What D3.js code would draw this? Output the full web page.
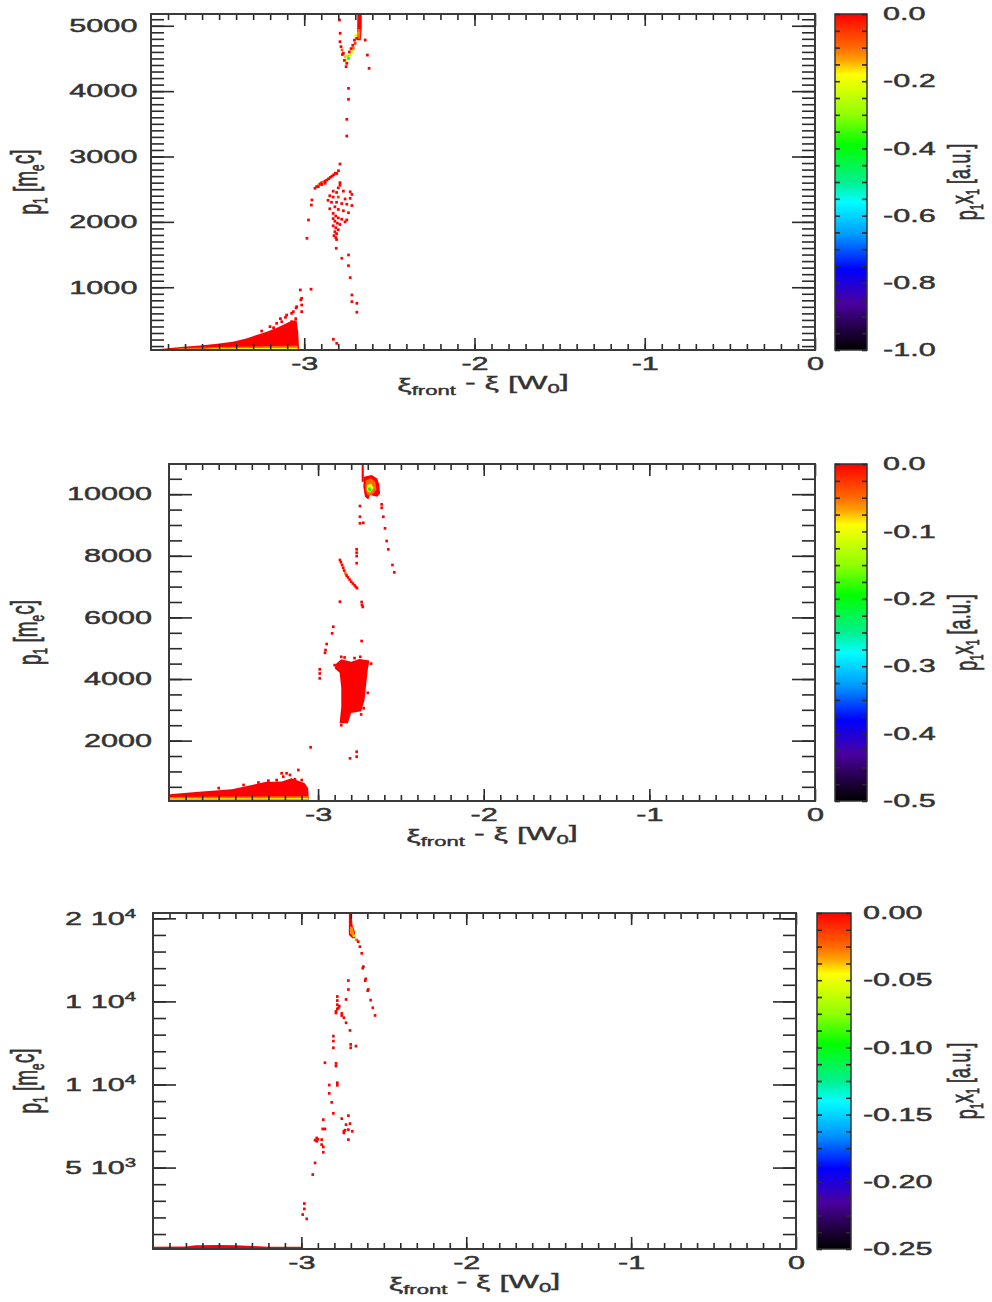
<!DOCTYPE html>
<html>
<head>
<meta charset="utf-8">
<script src="https://cdn.jsdelivr.net/npm/d3@7"></script>
<style>
body { margin: 0; background: #fff; }
svg text { font-family: "Liberation Sans", Arial, Helvetica, sans-serif; }
</style>
</head>
<body>
<div id="chart"></div>
<script>
// ---------- shared axis values
var xTicks = [-3, -2, -1, 0];
var xTickLabels = ["-3", "-2", "-1", "0"];

// colour table (fraction of colour bar from top -> colour)
var colorStops = [0, 0.1, 0.14, 0.18, 0.3, 0.39, 0.5, 0.56, 0.66, 0.76, 0.86, 0.94, 1];
var colorHex = ["#ff0000", "#ff6a00", "#ffa800", "#ffff00", "#90ff00", "#00ff00", "#00f090",
                "#00ffff", "#0096ff", "#0000ff", "#4a00a0", "#200040", "#000000"];

// ---------- panel 1  (p1 linear, values 0 .. -1)
var p1YTicks = [1000, 2000, 3000, 4000, 5000];
var p1YLabels = ["1000", "2000", "3000", "4000", "5000"];
var p1CbTicks = [0, -0.2, -0.4, -0.6, -0.8, -1.0];
var p1CbLabels = ["0.0", "-0.2", "-0.4", "-0.6", "-0.8", "-1.0"];

var p1StripRed = [[-3.90,45],[-3.83,60],[-3.71,90],[-3.61,110],[-3.51,135],[-3.42,165],[-3.34,215],
  [-3.28,270],[-3.22,320],[-3.16,380],[-3.12,430],[-3.08,480],[-3.045,500],[-3.035,300],[-3.03,40]];
var p1StripOrange = [[-3.80,42],[-3.72,70],[-3.50,85],[-3.30,95],[-3.10,105],[-3.04,105],[-3.035,40]];
var p1StripYellow = [[-3.62,42],[-3.55,62],[-3.30,70],[-3.04,75],[-3.035,40]];
var p1StripGreen = [[-3.45,40],[-3.40,50],[-3.06,52],[-3.04,55],[-3.035,40]];

var p1Column = [[-2.688,5180],[-2.662,5180],[-2.662,4950],[-2.668,4780],[-2.690,4780]];
var p1ColumnOrange = [[-2.688,4950],[-2.670,4950],[-2.672,4800],[-2.690,4800]];

var p1Dots = [
  [-2.793,5088,0],[-2.789,4885,0],[-2.642,4782,0],[-2.629,4552,0],[-2.619,4349,0],[-2.754,4374,0],
  [-2.790,4757,0],[-2.784,4680,0],[-2.778,4630,-0.08],[-2.770,4579,0],[-2.760,4528,-0.15],[-2.754,4476,-0.22],
  [-2.750,4425,0],[-2.740,4502,-0.4],[-2.731,4554,-0.25],[-2.721,4605,-0.18],[-2.711,4655,-0.1],[-2.701,4731,-0.05],
  [-2.692,4808,0],[-2.682,4885,-0.12],[-2.776,4560,0],[-2.764,4470,0],[-2.745,4540,-0.3],[-2.735,4600,0],
  [-2.725,4650,0],[-2.715,4700,0],[-2.705,4780,0],[-2.697,4850,-0.2],
  [-2.740,4043,0],[-2.740,3875,0],[-2.750,3569,0],[-2.750,3313,0],
  [-2.790,2885,0],[-2.799,2783,0],[-2.809,2740,0],
  [-2.937,2514,0],[-2.927,2540,0],[-2.917,2565,-0.15],[-2.907,2580,0],[-2.897,2600,0],[-2.887,2610,-0.08],
  [-2.877,2625,0],[-2.867,2640,0],[-2.857,2660,0],[-2.847,2680,0],[-2.837,2700,0],[-2.827,2720,0],
  [-2.817,2745,0],[-2.917,2540,0],[-2.897,2570,0],[-2.877,2590,0],
  [-2.955,2335,0],[-2.958,2258,0],[-2.975,2029,0],[-2.984,1749,0],
  [-2.790,2600,0],[-2.790,2560,0],[-2.800,2520,0],[-2.830,2470,0],[-2.810,2450,0],[-2.770,2470,0],[-2.730,2460,0],
  [-2.720,2420,0],[-2.850,2400,0],[-2.830,2380,0],[-2.800,2380,-0.05],[-2.760,2350,0],[-2.730,2360,0],[-2.860,2330,0],
  [-2.840,2300,0],[-2.810,2300,0],[-2.780,2280,0],[-2.750,2270,0],[-2.720,2250,0],[-2.820,2230,0],[-2.850,2200,0],
  [-2.800,2190,0],[-2.770,2170,0],[-2.740,2140,0],[-2.830,2130,0],[-2.815,2090,0],[-2.800,2060,0],[-2.780,2040,0],
  [-2.830,2050,0],[-2.820,2010,0],[-2.805,1980,0],[-2.790,1960,0],[-2.830,1940,0],[-2.815,1910,0],[-2.800,1880,0],
  [-2.820,1850,0],[-2.810,1820,0],[-2.825,1790,0],[-2.815,1760,0],[-2.810,1730,0],[-2.760,2000,0],[-2.750,2030,0],
  [-2.812,1596,0],[-2.779,1443,0],[-2.740,1494,0],[-2.740,1330,0],[-2.730,1147,0],[-2.720,882,0],[-2.720,780,0],
  [-2.691,755,0],[-2.691,618,0],[-2.829,204,0],[-2.809,142,0],
  [-3.023,959,0],[-2.960,970,0],[-3.020,806,0],[-3.048,683,0],[-3.015,627,0],[-3.074,602,0],[-3.103,575,0],
  [-3.064,626,0],[-3.044,702,0],[-3.015,728,0],[-3.015,831,0],[-3.162,448,0],[-3.201,397,0],[-3.132,473,0],
  [-3.093,397,0],[-3.074,473,0],[-3.250,330,0],[-3.180,380,0],[-3.140,520,0],[-3.110,540,0],[-3.050,520,0]
];

// ---------- panel 2  (p1 linear, values 0 .. -0.5)
var p2YTicks = [2000, 4000, 6000, 8000, 10000];
var p2YLabels = ["2000", "4000", "6000", "8000", "10000"];
var p2CbTicks = [0, -0.1, -0.2, -0.3, -0.4, -0.5];
var p2CbLabels = ["0.0", "-0.1", "-0.2", "-0.3", "-0.4", "-0.5"];

var p2StripRed = [[-3.90,250],[-3.88,270],[-3.72,340],[-3.52,420],[-3.40,560],[-3.32,660],[-3.22,670],
  [-3.16,780],[-3.08,620],[-3.06,450],[-3.055,40]];
var p2StripOrange = [[-3.90,170],[-3.50,185],[-3.20,195],[-3.06,195],[-3.055,40]];
var p2StripYellow = [[-3.90,125],[-3.50,130],[-3.06,135],[-3.055,40]];
var p2StripGreen = [[-3.90,90],[-3.06,95],[-3.055,40]];

var p2Column = [[-2.737,10980],[-2.724,10980],[-2.724,10400],[-2.737,10400]];
var p2TopOuter = [[-2.723,10567],[-2.677,10621],[-2.643,10513],[-2.630,10297],[-2.626,10026],[-2.643,9918],
  [-2.687,9972],[-2.697,9831],[-2.717,9918],[-2.727,10243]];
var p2TopOrange = [[-2.712,10450],[-2.680,10520],[-2.655,10400],[-2.648,10150],[-2.670,10000],[-2.700,9960],[-2.715,10150]];
var p2TopYellow = [[-2.705,10300],[-2.680,10350],[-2.665,10200],[-2.685,10050],[-2.705,10100]];
var p2TopGreen = [[-2.700,10200],[-2.685,10230],[-2.678,10120],[-2.693,10080]];
var p2Blob = [[-2.89,4500],[-2.86,4640],[-2.80,4560],[-2.75,4650],[-2.69,4600],[-2.70,4300],[-2.71,3800],
  [-2.72,3300],[-2.74,2950],[-2.80,2900],[-2.82,2560],[-2.87,2560],[-2.86,3100],[-2.86,3700],[-2.87,4200],[-2.90,4350]];

var p2Dots = [
  [-2.747,9615,0],[-2.747,9268,0],[-2.747,9054,0],[-2.727,9070,0],
  [-2.616,9670,0],[-2.616,9560,0],[-2.606,9268,0],[-2.596,8891,0],[-2.586,8480,0],[-2.576,8210,0],[-2.551,7701,0],[-2.540,7463,0],
  [-2.767,8210,0],[-2.767,8100,0],[-2.767,7990,0],[-2.767,7760,0],
  [-2.868,7863,0],[-2.862,7790,0],[-2.855,7700,0],[-2.848,7610,0],[-2.842,7520,0],[-2.835,7430,-0.05],[-2.828,7360,0],
  [-2.820,7300,0],[-2.810,7230,0],[-2.800,7160,0],[-2.790,7100,0],[-2.780,7040,0],[-2.772,6990,0],[-2.765,6950,0],
  [-2.868,6510,0],[-2.737,6500,0],[-2.735,6400,0],[-2.730,6340,0],
  [-2.908,5698,0],[-2.915,5483,0],[-2.737,5234,0],[-2.948,5136,0],[-2.955,4941,0],[-2.958,4850,0],
  [-2.990,4315,0],[-2.990,4180,0],[-2.990,4023,0],
  [-2.900,4450,0],[-2.860,4720,0],[-2.840,4700,0],[-2.780,4680,0],[-2.745,4720,0],[-2.680,4500,0],[-2.700,3550,0],
  [-2.725,3050,0],[-2.740,2850,0],[-2.860,2500,0],
  [-3.045,1783,0],[-2.807,1426,0],[-2.767,1640,0],[-2.767,1478,0],
  [-3.220,939,0],[-3.190,939,0],[-3.170,885,0],[-3.140,745,0],[-3.119,1046,0],[-3.210,830,0],[-3.099,720,0],
  [-3.130,615,0],[-3.250,720,0],[-3.300,700,0],[-3.360,640,0],[-3.450,560,0],[-3.600,460,0]
];

// ---------- panel 3  (p1 up to 2e4, values 0 .. -0.25)
var p3YTicks = [5000, 10000, 15000, 20000];
var p3YMant = ["5", "1", "1", "2"];
var p3YExp = ["3", "4", "4", "4"];
var p3CbTicks = [0, -0.05, -0.10, -0.15, -0.20, -0.25];
var p3CbLabels = ["0.00", "-0.05", "-0.10", "-0.15", "-0.20", "-0.25"];

var p3StripRed = [[-3.90,240],[-3.70,250],[-3.64,320],[-3.50,340],[-3.40,320],[-3.33,290],[-3.20,240],[-3.00,230],[-2.995,100]];

var p3Column = [[-2.712,20320],[-2.696,20320],[-2.690,19600],[-2.676,19200],[-2.672,18800],[-2.690,18800],[-2.712,19000]];
var p3ColumnOrange = [[-2.705,19500],[-2.690,19500],[-2.680,19100],[-2.690,18950],[-2.705,19100]];

var p3Dots = [
  [-2.681,18950,-0.07],[-2.665,18700,-0.02],[-2.655,18594,0],[-2.645,18293,0],[-2.634,17893,0],[-2.624,17092,0],
  [-2.628,17000,0],[-2.610,16354,0],[-2.613,16250,0],[-2.594,15716,0],[-2.598,15650,0],[-2.580,15078,0],
  [-2.567,14618,0],[-2.553,14156,0],
  [-2.715,16253,0],[-2.715,15716,0],[-2.729,15118,0],
  [-2.782,15293,0],[-2.782,15050,0],[-2.782,14800,0],[-2.782,14550,0],[-2.790,14400,0],[-2.770,14715,0],
  [-2.755,14276,0],[-2.742,14015,0],[-2.729,13716,0],[-2.755,14150,0],[-2.790,14300,0],[-2.775,14600,0],
  [-2.705,13254,0],[-2.701,12411,0],[-2.701,12211,0],[-2.669,12311,0],
  [-2.806,12912,0],[-2.806,12611,0],[-2.806,12211,0],[-2.857,11309,0],[-2.790,11268,0],[-2.790,11108,0],
  [-2.782,10107,0],[-2.782,9950,0],[-2.831,9966,0],[-2.831,9465,0],[-2.816,8924,0],[-2.806,8262,0],
  [-2.867,7884,0],[-2.871,7323,0],[-2.857,7323,0],
  [-2.755,7945,0],[-2.715,8126,0],[-2.729,7584,0],[-2.705,7644,0],[-2.715,7283,0],[-2.742,7083,0],
  [-2.742,7183,0],[-2.691,7183,0],[-2.715,6682,0],[-2.735,7250,0],
  [-2.907,6782,0],[-2.907,6582,0],[-2.917,6650,0],[-2.900,6700,0],[-2.877,6682,0],[-2.877,6382,0],
  [-2.867,6241,0],[-2.867,5921,0],
  [-2.917,5280,0],[-2.931,4580,0],
  [-2.982,2835,0],[-2.982,2514,0],[-2.992,2174,0],[-2.968,1914,0]
];

// ---------- layout
var panels = [
  { top: 14, bottom: 350, left: 151, right: 815, cbL: 835, cbR: 867, yDomain: [40, 5180], yMinor: 100,
    yTicks: p1YTicks, yLabels: p1YLabels, yPad: 8, cMin: -1, cMinor: 0.05, cTicks: p1CbTicks, cLabels: p1CbLabels, cPad: 9.4,
    dp: 42, strips: [[p1StripRed, 0], [p1StripOrange, -0.1], [p1StripYellow, -0.2], [p1StripGreen, -0.38]],
    patches: [[0, p1Column], [-0.1, p1ColumnOrange]], dots: p1Dots },
  { top: 464, bottom: 801, left: 169, right: 815, cbL: 835, cbR: 867, yDomain: [40, 10980], yMinor: 500,
    yTicks: p2YTicks, yLabels: p2YLabels, yPad: 10, cMin: -0.5, cMinor: 0.025, cTicks: p2CbTicks, cLabels: p2CbLabels, cPad: 9.4,
    dp: 88, strips: [[p2StripRed, 0], [p2StripOrange, -0.05], [p2StripYellow, -0.1], [p2StripGreen, -0.2]],
    patches: [[0, p2Column], [0, p2TopOuter], [-0.05, p2TopOrange], [-0.1, p2TopYellow], [-0.2, p2TopGreen], [0, p2Blob]],
    dots: p2Dots },
  { top: 913, bottom: 1249, left: 153, right: 796, cbL: 817, cbR: 851, yDomain: [100, 20320], yMinor: 1000,
    yTicks: p3YTicks, yMant: p3YMant, yExp: p3YExp, yPad: 10, cMin: -0.25, cMinor: 0.0125, cTicks: p3CbTicks, cLabels: p3CbLabels, cPad: 7,
    dp: 165, strips: [[p3StripRed, 0]], patches: [[0, p3Column], [-0.03, p3ColumnOrange]], dots: p3Dots }
];

var svg = d3.select("#chart").append("svg")
  .attr("width", 992)
  .attr("height", 1302);

var grad = svg.append("defs").append("linearGradient")
  .attr("id", "cbar")
  .attr("x1", 0).attr("y1", 0).attr("x2", 0).attr("y2", 1);
grad.selectAll("stop")
  .data(colorStops)
  .enter().append("stop")
  .attr("offset", function(d) { return d; })
  .attr("stop-color", function(d, i) { return colorHex[i]; });

var rainbow = d3.scaleLinear().domain(colorStops).range(colorHex).clamp(true);

var SX = "scale(1.7,1)";   // the figure is stretched horizontally

function styleAxis(g, size) {
  g.select(".domain").remove();
  g.attr("color", "#2a2a2a").attr("font-size", size || 18)
   .attr("font-family", "'Liberation Sans', Arial, Helvetica, sans-serif");
  g.selectAll("line").attr("stroke-width", 1.6);
  g.selectAll("text").attr("transform", SX).attr("fill", "#333")
   .attr("stroke", "#333").attr("stroke-width", 0.45);
}

function drawPanel(P) {
  var x = d3.scaleLinear().domain([-3.9, 0]).range([P.left, P.right]);
  var y = d3.scaleLinear().domain(P.yDomain).range([P.bottom, P.top]);
  var col = function(v) { return rainbow(v / P.cMin); };
  var g = svg.append("g");

  // beam strip at the bottom
  var area = d3.area()
    .x(function(d) { return x(d[0]); })
    .y0(P.bottom)
    .y1(function(d) { return y(d[1]); });
  g.selectAll(".strip")
    .data(P.strips)
    .enter().append("path")
    .attr("class", "strip")
    .attr("d", function(d) { return area(d[0]); })
    .attr("fill", function(d) { return col(d[1]); });

  // dense patches
  var line = d3.line()
    .x(function(d) { return x(d[0]); })
    .y(function(d) { return y(d[1]); });
  g.selectAll(".patch")
    .data(P.patches)
    .enter().append("path")
    .attr("class", "patch")
    .attr("d", function(d) { return line(d[1]) + "Z"; })
    .attr("fill", function(d) { return col(d[0]); });

  // single cells
  var w = x(-3.9 + 0.016) - x(-3.9);
  var h = y(P.yDomain[0]) - y(P.yDomain[0] + P.dp);
  g.selectAll(".cell")
    .data(P.dots)
    .enter().append("rect")
    .attr("class", "cell")
    .attr("x", function(d) { return x(d[0]) - w / 2; })
    .attr("y", function(d) { return y(d[1]) - h / 2; })
    .attr("width", w)
    .attr("height", h)
    .attr("fill", function(d) { return col(d[2]); });

  // ticks on all four sides, pointing in
  var xMinor = d3.range(-3.8, -0.05, 0.1);
  var yMinor = d3.range(P.yMinor, P.yDomain[1], P.yMinor);

  g.append("g").attr("transform", "translate(0," + P.bottom + ")")
    .call(d3.axisBottom(x).tickValues(xMinor).tickSize(-6).tickFormat("")).call(styleAxis);
  g.append("g").attr("transform", "translate(0," + P.bottom + ")")
    .call(d3.axisBottom(x).tickValues(xTicks).tickSize(-12).tickPadding(7)
      .tickFormat(function(d, i) { return xTickLabels[i]; }))
    .call(styleAxis);
  g.append("g").attr("transform", "translate(0," + P.top + ")")
    .call(d3.axisTop(x).tickValues(xMinor).tickSize(-6).tickFormat("")).call(styleAxis);
  g.append("g").attr("transform", "translate(0," + P.top + ")")
    .call(d3.axisTop(x).tickValues(xTicks).tickSize(-12).tickFormat("")).call(styleAxis);

  g.append("g").attr("transform", "translate(" + P.left + ",0)")
    .call(d3.axisLeft(y).tickValues(yMinor).tickSize(-13).tickFormat("")).call(styleAxis);
  var yl = g.append("g").attr("transform", "translate(" + P.left + ",0)")
    .call(d3.axisLeft(y).tickValues(P.yTicks).tickSize(-23).tickPadding(P.yPad)
      .tickFormat(function(d, i) { return P.yLabels ? P.yLabels[i] : ""; }))
    .call(styleAxis);
  if (P.yMant) {
    yl.selectAll(".tick text").each(function(d, i) {
      var t = d3.select(this).text(null);
      t.append("tspan").text(P.yMant[i] + " 10");
      t.append("tspan").attr("dy", "-0.55em").attr("font-size", 12).text(P.yExp[i]);
    });
  }
  g.append("g").attr("transform", "translate(" + P.right + ",0)")
    .call(d3.axisRight(y).tickValues(yMinor).tickSize(-13).tickFormat("")).call(styleAxis);
  g.append("g").attr("transform", "translate(" + P.right + ",0)")
    .call(d3.axisRight(y).tickValues(P.yTicks).tickSize(-23).tickFormat("")).call(styleAxis);

  // frame
  g.append("rect")
    .attr("x", P.left).attr("y", P.top)
    .attr("width", P.right - P.left).attr("height", P.bottom - P.top)
    .attr("fill", "none").attr("stroke", "#3a3a3a").attr("stroke-width", 2);

  // colour bar
  var c = d3.scaleLinear().domain([P.cMin, 0]).range([P.bottom, P.top]);
  var cMinor = d3.range(P.cMin, 0.0001, P.cMinor);
  g.append("rect")
    .attr("x", P.cbL).attr("y", P.top)
    .attr("width", P.cbR - P.cbL).attr("height", P.bottom - P.top)
    .attr("fill", "url(#cbar)").attr("stroke", "#333").attr("stroke-width", 1.5);
  g.append("g").attr("transform", "translate(" + P.cbL + ",0)")
    .call(d3.axisLeft(c).tickValues(cMinor).tickSize(-5).tickFormat("")).call(styleAxis);
  g.append("g").attr("transform", "translate(" + P.cbR + ",0)")
    .call(d3.axisRight(c).tickValues(cMinor).tickSize(-5).tickFormat("")).call(styleAxis);
  g.append("g").attr("transform", "translate(" + P.cbR + ",0)")
    .call(d3.axisRight(c).tickValues(P.cTicks).tickSize(0).tickPadding(P.cPad)
      .tickFormat(function(d, i) { return P.cLabels[i]; }))
    .call(styleAxis);

  // axis titles
  var midY = (P.top + P.bottom) / 2;
  var yt = g.append("text")
    .attr("transform", "translate(41," + midY + ") " + SX + " rotate(-90)")
    .attr("text-anchor", "middle").attr("font-size", 19).attr("fill", "#333")
    .attr("stroke", "#333").attr("stroke-width", 0.4);
  yt.append("tspan").text("p");
  yt.append("tspan").attr("font-size", 12).attr("dy", "0.3em").text("1");
  yt.append("tspan").attr("dy", "-0.3em").text(" [m");
  yt.append("tspan").attr("font-size", 12).attr("dy", "0.3em").text("e");
  yt.append("tspan").attr("dy", "-0.3em").text("c]");

  var xt = g.append("text")
    .attr("transform", "translate(" + ((P.left + P.right) / 2) + "," + (P.bottom + 41) + ") " + SX)
    .attr("text-anchor", "middle").attr("font-size", 19).attr("fill", "#333")
    .attr("stroke", "#333").attr("stroke-width", 0.4);
  xt.append("tspan").text("\u03be");
  xt.append("tspan").attr("font-size", 13).attr("dy", "0.3em").text("front");
  xt.append("tspan").attr("dy", "-0.3em").text(" - \u03be [W");
  xt.append("tspan").attr("font-size", 13).attr("dy", "0.3em").text("0");
  xt.append("tspan").attr("dy", "-0.3em").text("]");

  var ct = g.append("text")
    .attr("transform", "translate(977," + midY + ") " + SX + " rotate(-90)")
    .attr("text-anchor", "middle").attr("font-size", 18).attr("fill", "#333")
    .attr("stroke", "#333").attr("stroke-width", 0.4);
  ct.append("tspan").text("p");
  ct.append("tspan").attr("font-size", 11).attr("dy", "0.3em").text("1");
  ct.append("tspan").attr("dy", "-0.3em").text("x");
  ct.append("tspan").attr("font-size", 11).attr("dy", "0.3em").text("1");
  ct.append("tspan").attr("dy", "-0.3em").text(" [a.u.]");
}

panels.forEach(drawPanel);
</script>
</body>
</html>
